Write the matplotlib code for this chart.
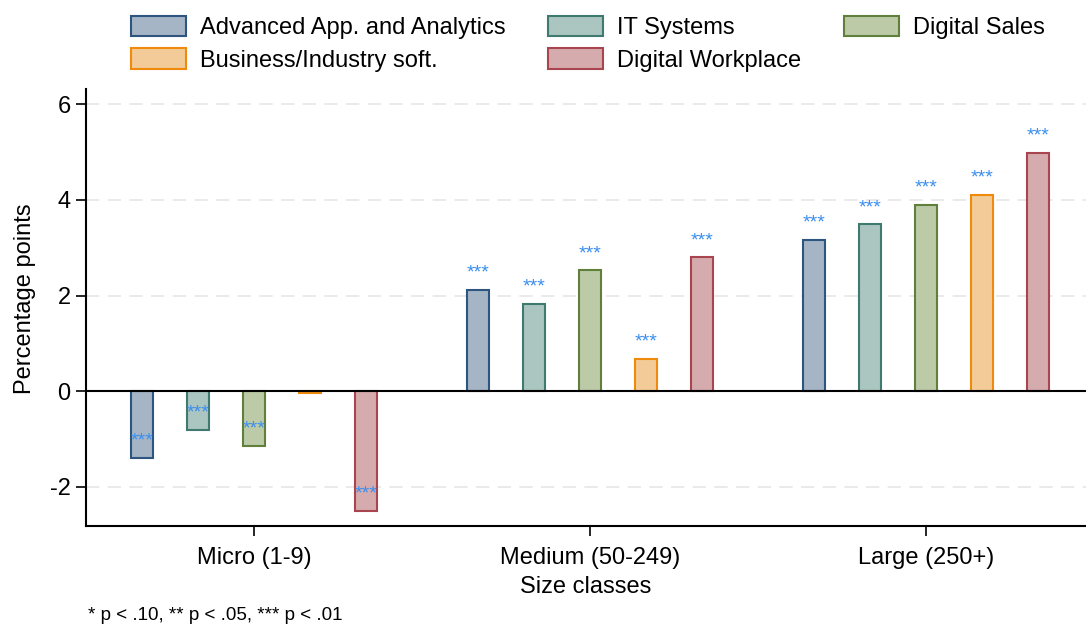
import numpy as np
import matplotlib.pyplot as plt

plt.rcParams['font.family'] = ['Liberation Sans', 'DejaVu Sans']

# 数据: 各规模组的百分点差异
size_classes = ['Micro (1-9)', 'Medium (50-249)', 'Large (250+)']
series = ['Advanced App. and Analytics', 'IT Systems', 'Digital Sales',
          'Business/Industry soft.', 'Digital Workplace']
adv_analytics = [-1.39, 2.12, 3.17]
it_systems = [-0.81, 1.83, 3.49]
digital_sales = [-1.14, 2.53, 3.90]
business_soft = [-0.03, 0.68, 4.11]
digital_workplace = [-2.50, 2.80, 4.99]
# 显著性标记
stars_adv = ['***', '***', '***']
stars_it = ['***', '***', '***']
stars_sales = ['***', '***', '***']
stars_business = ['', '***', '***']
stars_workplace = ['***', '***', '***']

values = [adv_analytics, it_systems, digital_sales, business_soft, digital_workplace]
stars = [stars_adv, stars_it, stars_sales, stars_business, stars_workplace]
fills = ['#a5b5c6', '#abc5c0', '#bccaa8', '#f3cb98', '#d5abae']
edges = ['#2d5580', '#3f7a70', '#5f7f3a', '#ef8a0c', '#a8454e']

fig = plt.figure(figsize=(10.86, 6.25), dpi=100)
ax = fig.add_axes([86 / 1086, 1 - 526 / 625, 1000 / 1086, 437 / 625])

n = len(series)
group_pos = np.arange(len(size_classes)) * (n + 1) + (n - 1) / 2
handles = []
for i in range(n):
    x = np.arange(len(size_classes)) * (n + 1) + i
    b = ax.bar(x, values[i], width=0.39, color=fills[i], edgecolor=edges[i],
               linewidth=1.5, label=series[i], zorder=3)
    handles.append(b)
    for xi, v, s in zip(x, values[i], stars[i]):
        if s:
            ax.text(xi, v + 0.35, s, ha='center', va='center', fontsize=14,
                    color='#3a8ef0', zorder=4)

ax.axhline(0, color='black', linewidth=1.5, zorder=5)
for y in [-2, 2, 4, 6]:
    ax.axhline(y, color='#e6e6e6', linewidth=1.2, linestyle=(0, (8, 5)), zorder=1)

ax.set_xlim(-1, 16.86)
ax.set_ylim(-2.82, 6.32)
ax.set_yticks([-2, 0, 2, 4, 6])
ax.set_yticklabels(['-2', '0', '2', '4', '6'])
ax.set_xticks(group_pos)
ax.set_xticklabels(size_classes)
ax.tick_params(axis='both', labelsize=17, length=7, width=1.2, color='black')
ax.tick_params(axis='x', pad=8)
ax.tick_params(axis='y', pad=4)
ax.spines['top'].set_visible(False)
ax.spines['right'].set_visible(False)
ax.spines['left'].set_linewidth(1.5)
ax.spines['bottom'].set_linewidth(1.5)

ax.set_ylabel('Percentage points', fontsize=17)
ax.yaxis.set_label_coords(-0.050, 0.52)
ax.set_xlabel('Size classes', fontsize=17, labelpad=5)

fig.text(88 / 1086, 1 - 615 / 625, '* p < .10, ** p < .05, *** p < .01',
         fontsize=13.5, va='center', ha='left')

order = [0, 3, 1, 4, 2]
fig.legend([handles[k] for k in order], [series[k] for k in order], ncol=3,
           loc='upper left', bbox_to_anchor=(114 / 1086, 1 + 1 / 625),
           frameon=False, fontsize=17, handlelength=2.33, handleheight=0.97,
           handletextpad=0.6, columnspacing=1.8, labelspacing=0.4,
           borderpad=0.2)

plt.savefig('out.png', dpi=100)
